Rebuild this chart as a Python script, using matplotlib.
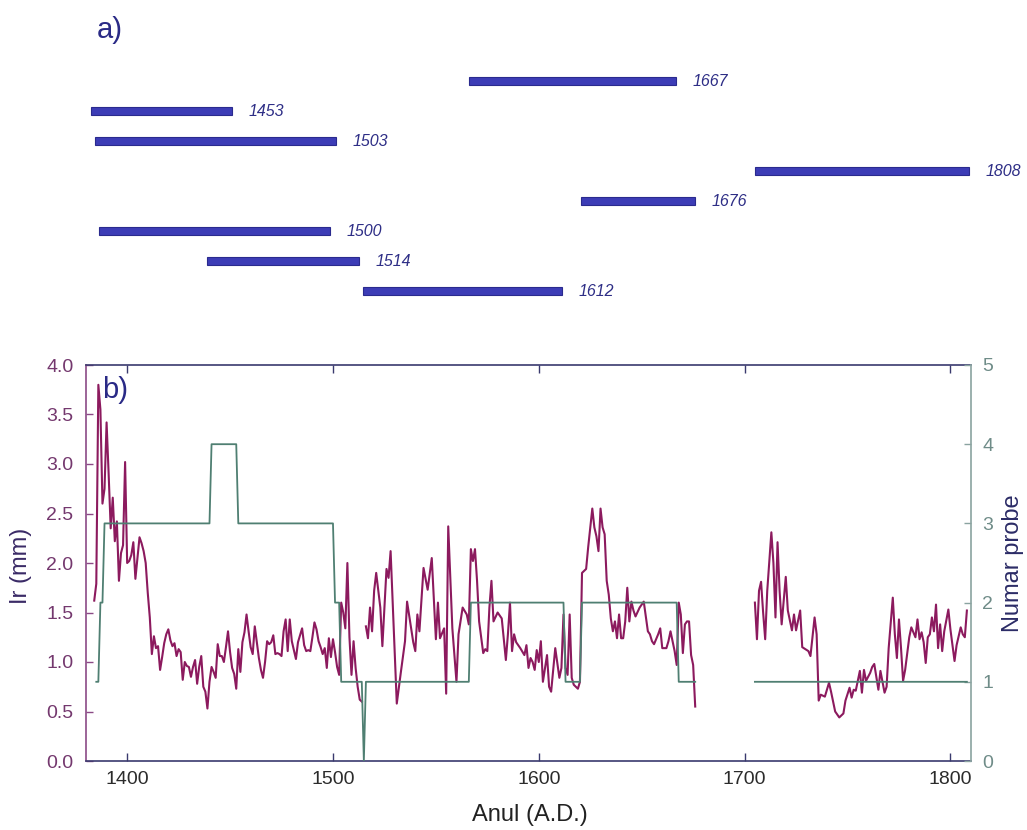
import numpy as np
import matplotlib
matplotlib.use("Agg")
import matplotlib.pyplot as plt
from matplotlib.ticker import FormatStrFormatter

plt.rcParams['font.family'] = ['Liberation Sans', 'DejaVu Sans']

# ---------------- data ----------------
# panel a: sample spans (rows from top to bottom)
sample_end = [1667, 1453, 1503, 1808, 1676, 1500, 1514, 1612]
sample_start = [1567, 1385, 1387, 1705, 1621, 1389, 1441, 1516]

# panel b: ring width (mm); NaN marks gaps in the series
rw_years = [
    1384, 1385, 1386, 1387, 1388, 1389, 1390, 1391, 1392, 1393, 1394, 1395, 1396, 1397, 1398, 1399,
    1400, 1401, 1402, 1403, 1404, 1405, 1406, 1407, 1408, 1409, 1410, 1411, 1412, 1413, 1414, 1415,
    1416, 1417, 1418, 1419, 1420, 1421, 1422, 1423, 1424, 1425, 1426, 1427, 1428, 1429, 1430, 1431,
    1432, 1433, 1434, 1435, 1436, 1437, 1438, 1439, 1440, 1441, 1442, 1443, 1444, 1445, 1446, 1447,
    1448, 1449, 1450, 1451, 1452, 1453, 1454, 1455, 1456, 1457, 1458, 1459, 1460, 1461, 1462, 1463,
    1464, 1465, 1466, 1467, 1468, 1469, 1470, 1471, 1472, 1473, 1474, 1475, 1476, 1477, 1478, 1479,
    1480, 1481, 1482, 1483, 1484, 1485, 1486, 1487, 1488, 1489, 1490, 1491, 1492, 1493, 1494, 1495,
    1496, 1497, 1498, 1499, 1500, 1501, 1502, 1503, 1504, 1505, 1506, 1507, 1508, 1509, 1510, 1511,
    1512, 1513, 1514, 1515,
    1516, 1517, 1518, 1519, 1520, 1521, 1523, 1524, 1526, 1527, 1528, 1529, 1531, 1533, 1535, 1536,
    1538, 1539, 1540, 1541, 1542, 1544, 1546, 1548, 1550, 1551, 1552, 1554, 1555, 1556, 1558, 1560,
    1561, 1563, 1565, 1566, 1567, 1568, 1569, 1570, 1571, 1573, 1574, 1575, 1576, 1577, 1578, 1580,
    1582, 1584, 1585, 1586, 1587, 1588, 1589, 1590, 1591, 1593, 1594, 1595, 1596, 1597, 1598, 1599,
    1600, 1601, 1602, 1604, 1605, 1606, 1608, 1610, 1611, 1612, 1613, 1614, 1615, 1616, 1617, 1619,
    1620, 1621, 1623, 1624, 1626, 1627, 1628, 1629, 1630, 1631, 1632, 1633, 1634, 1635, 1636, 1637,
    1638, 1639, 1640, 1641, 1642, 1643, 1644, 1645, 1646, 1647, 1649, 1651, 1653, 1654, 1655, 1656,
    1658, 1659, 1660, 1662, 1663, 1664, 1666, 1667, 1668, 1669, 1670, 1671, 1672, 1673, 1674, 1675,
    1676, 1690,
    1705, 1706, 1707, 1708, 1709, 1710, 1711, 1713, 1714, 1715, 1716, 1717, 1718, 1720, 1721, 1723,
    1724, 1725, 1727, 1728, 1731, 1732, 1734, 1735, 1736, 1737, 1739, 1741, 1742, 1744, 1746, 1748,
    1749, 1751, 1752, 1753, 1754, 1756, 1757, 1758, 1759, 1761, 1762, 1763, 1765, 1766, 1768, 1769,
    1770, 1772, 1773, 1774, 1775, 1776, 1777, 1778, 1780, 1781, 1782, 1783, 1784, 1785, 1786, 1787,
    1788, 1789, 1790, 1791, 1792, 1793, 1794, 1795, 1796, 1797, 1799, 1800, 1802, 1803, 1805, 1806,
    1807, 1808,
]
rw_values = [
    1.62, 1.79, 3.80, 3.55, 2.60, 2.75, 3.42, 2.90, 2.35, 2.66, 2.22, 2.42, 1.82, 2.10, 2.18, 3.02,
    2.00, 2.02, 2.08, 2.21, 1.84, 2.05, 2.26, 2.20, 2.12, 2.00, 1.70, 1.45, 1.08, 1.26, 1.14, 1.16,
    0.92, 1.05, 1.19, 1.28, 1.33, 1.22, 1.16, 1.19, 1.06, 1.13, 1.10, 0.82, 1.00, 0.96, 0.95, 0.85,
    0.95, 1.02, 0.78, 0.95, 1.06, 0.75, 0.70, 0.53, 0.80, 0.95, 0.90, 0.84, 1.18, 1.06, 1.06, 1.00,
    1.15, 1.31, 1.10, 0.94, 0.88, 0.73, 1.13, 0.90, 1.20, 1.30, 1.48, 1.31, 1.15, 1.08, 1.36, 1.20,
    1.04, 0.92, 0.84, 1.00, 1.21, 1.18, 1.20, 1.27, 1.08, 1.09, 1.08, 1.06, 1.31, 1.43, 1.11, 1.43,
    1.21, 1.12, 1.03, 1.20, 1.27, 1.34, 1.17, 1.11, 1.12, 1.11, 1.25, 1.40, 1.33, 1.21, 1.15, 1.08,
    1.14, 0.94, 1.24, 1.05, 1.23, 1.10, 0.95, 0.87, 1.60, 1.50, 1.34, 2.00, 1.25, 0.87, 1.21, 0.94,
    0.75, 0.62, 0.60, np.nan,
    1.36, 1.24, 1.55, 1.31, 1.72, 1.90, 1.55, 1.16, 1.94, 1.85, 2.12, 1.60, 0.58, 0.90, 1.21, 1.61,
    1.34, 1.20, 1.11, 1.48, 1.31, 1.95, 1.73, 2.05, 1.23, 1.60, 1.24, 1.34, 0.68, 2.37, 1.34, 0.80,
    1.28, 1.55, 1.48, 1.38, 2.14, 2.02, 2.14, 1.82, 1.41, 1.09, 1.13, 1.11, 1.55, 1.82, 1.41, 1.50,
    1.44, 1.02, 1.28, 1.60, 1.11, 1.28, 1.20, 1.17, 1.14, 1.07, 1.17, 0.94, 1.04, 1.00, 0.92, 1.12,
    1.00, 1.21, 0.80, 1.07, 0.75, 0.70, 1.14, 0.84, 0.94, 1.48, 0.94, 0.87, 1.48, 0.84, 0.77, 0.73,
    0.80, 1.90, 1.94, 2.16, 2.55, 2.36, 2.27, 2.12, 2.55, 2.36, 2.29, 1.82, 1.68, 1.44, 1.31, 1.41,
    1.24, 1.48, 1.24, 1.24, 1.41, 1.75, 1.41, 1.61, 1.52, 1.46, 1.55, 1.61, 1.31, 1.28, 1.21, 1.18,
    1.28, 1.34, 1.14, 1.14, 1.21, 1.31, 1.11, 0.97, 1.60, 1.48, 1.09, 1.38, 1.41, 1.41, 1.07, 0.97,
    0.55, np.nan,
    1.60, 1.23, 1.72, 1.81, 1.50, 1.23, 1.72, 2.31, 2.00, 1.45, 2.21, 1.72, 1.38, 1.86, 1.52, 1.32,
    1.48, 1.32, 1.52, 1.15, 1.11, 1.06, 1.45, 1.28, 0.61, 0.67, 0.65, 0.79, 0.70, 0.50, 0.44, 0.48,
    0.61, 0.74, 0.64, 0.72, 0.71, 0.91, 0.69, 0.92, 0.81, 0.89, 0.95, 0.98, 0.72, 0.91, 0.69, 0.75,
    1.14, 1.65, 1.28, 1.04, 1.43, 1.14, 0.81, 0.92, 1.25, 1.35, 1.30, 1.25, 1.43, 1.23, 1.30, 1.20,
    0.99, 1.25, 1.28, 1.45, 1.31, 1.58, 1.14, 1.38, 1.11, 1.31, 1.53, 1.33, 1.01, 1.17, 1.35, 1.28,
    1.25, 1.52,
]

x_ticks = [1400, 1500, 1600, 1700, 1800]
y_ticks_left = [0.0, 0.5, 1.0, 1.5, 2.0, 2.5, 3.0, 3.5, 4.0]
y_ticks_right = [0, 1, 2, 3, 4, 5]

# sample depth (number of samples per year) derived from the spans
years_all = np.arange(min(sample_start), max(sample_end) + 1)
depth = np.zeros(len(years_all))
for s, e in zip(sample_start, sample_end):
    depth += ((years_all >= s) & (years_all <= e))
depth = depth.astype(float)
# long runs without any sample are left blank
i = 0
while i < len(depth):
    if depth[i] == 0:
        j = i
        while j < len(depth) and depth[j] == 0:
            j += 1
        if j - i > 2:
            depth[i:j] = np.nan
        i = j
    else:
        i += 1

# ---------------- figure ----------------
W, H = 1027, 830
fig = plt.figure(figsize=(W / 100, H / 100), dpi=100)

BAR_C = '#3c3cb6'
BAR_EDGE = '#2a2a8e'
LBL_C = '#2e2e86'

# panel a
ax_a = fig.add_axes([86 / W, 1 - 306 / H, (971 - 86) / W, 240 / H])
rows = np.arange(len(sample_end))
ax_a.barh(rows, np.array(sample_end) - np.array(sample_start), left=sample_start,
          height=0.24, color=BAR_C, edgecolor=BAR_EDGE, linewidth=0.8)
for r, e in zip(rows, sample_end):
    ax_a.text(e + 8, r, str(e), ha='left', va='center', fontsize=11.5,
              style='italic', color=LBL_C, clip_on=False)
ax_a.set_xlim(1382.7, 1809)
ax_a.set_ylim(len(sample_end) - 0.5, -0.5)
ax_a.axis('off')
fig.text(97 / W, 1 - 38 / H, 'a)', fontsize=21, color='#2a2a86', ha='left', va='baseline')

# panel b
ax = fig.add_axes([86 / W, 1 - 761 / H, (971 - 86) / W, (761 - 365) / H])
RW_C = '#8c1a5e'
DEP_C = '#4f7f72'
ax.plot(rw_years, rw_values, color=RW_C, lw=1.5, zorder=3)
ax.set_xlim(1380, 1810)
ax.set_ylim(0, 4)
ax.set_xticks(x_ticks)
ax.set_yticks(y_ticks_left)
ax.yaxis.set_major_formatter(FormatStrFormatter('%.1f'))
ax.tick_params(axis='x', direction='in', top=True, length=6, width=1,
               color='#3a3a6e', labelsize=14, labelcolor='#2b2b2b', pad=7)
ax.tick_params(axis='y', direction='in', length=5, width=1,
               color='#8b4a86', labelsize=14, labelcolor='#74386e', pad=9)
for side in ['top', 'bottom']:
    ax.spines[side].set_color('#3a3a6e')
    ax.spines[side].set_linewidth(1.2)
ax.spines['left'].set_color('#8b4a86')
ax.spines['left'].set_linewidth(1.2)
ax.spines['right'].set_visible(False)

ax2 = ax.twinx()
ax2.plot(years_all, depth, color=DEP_C, lw=1.3, zorder=2)
ax2.set_ylim(0, 5)
ax2.set_yticks(y_ticks_right)
ax2.tick_params(axis='y', direction='in', length=5, width=1,
                color='#8aa3a0', labelsize=14, labelcolor='#6f8c88', pad=8)
for side in ['top', 'bottom', 'left']:
    ax2.spines[side].set_visible(False)
ax2.spines['right'].set_color('#8aa3a0')
ax2.spines['right'].set_linewidth(1.2)

ax.text(0.018, 0.917, 'b)', transform=ax.transAxes, fontsize=21,
        color='#2a2a86', ha='left', va='baseline')

fig.text(21 / W, 1 - 566 / H, 'Ir (mm)', rotation=90, ha='center', va='center',
         fontsize=17, color='#3a2a66')
fig.text(1013 / W, 1 - 563 / H, 'Numar probe', rotation=90, ha='center', va='center',
         fontsize=17, color='#2b2b66')
fig.text(530 / W, 1 - 815 / H, 'Anul (A.D.)', ha='center', va='center',
         fontsize=17, color='#222222')

fig.savefig('out.png', dpi=100)
